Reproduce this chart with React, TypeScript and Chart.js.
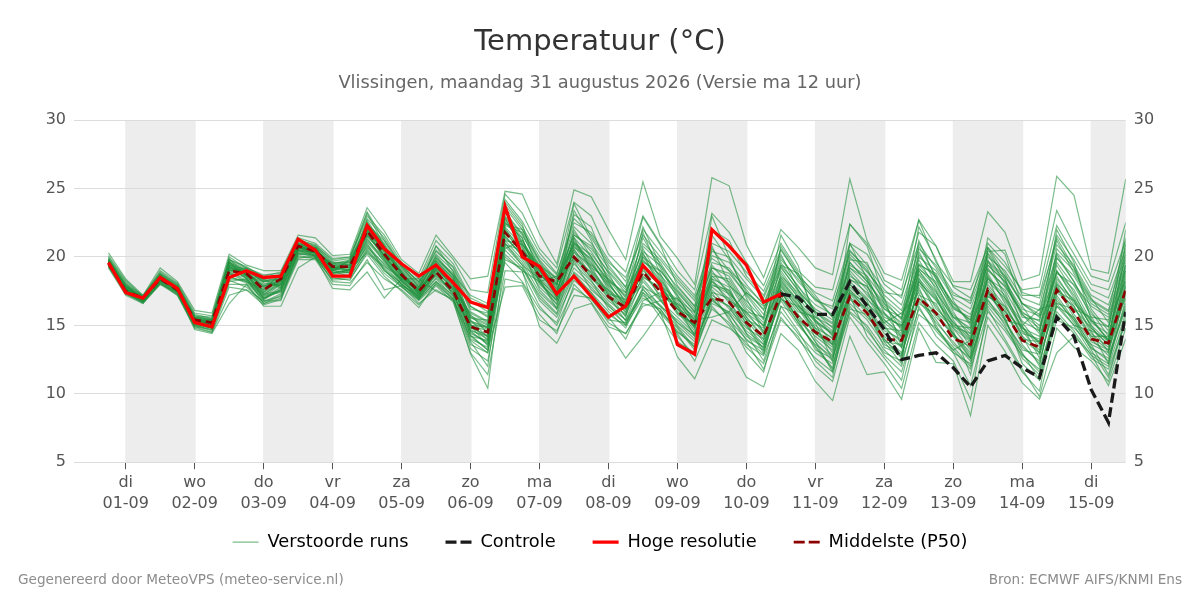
import React, { useEffect, useRef } from "react";
import { Chart, registerables } from "chart.js";
Chart.register(...registerables);

const dayNames = ["di","wo","do","vr","za","zo","ma","di","wo","do","vr","za","zo","ma","di"];
const dates = ["01-09","02-09","03-09","04-09","05-09","06-09","07-09","08-09","09-09","10-09","11-09","12-09","13-09","14-09","15-09"];
const shadedDays = [0,2,4,6,8,10,12,14];

const hres = [19.6,17.4,17.0,18.5,17.7,15.2,14.9,18.5,19.0,18.5,18.6,21.3,20.5,18.6,18.6,22.3,20.6,19.5,18.6,19.4,18.1,16.7,16.3,23.7,20.0,19.3,17.3,18.6,17.1,15.6,16.4,19.4,18.0,13.6,12.9,22.0,20.8,19.4,16.7,17.3];
const p50 = [19.5,17.5,17.0,18.4,17.6,15.4,15.2,19.0,18.8,17.6,18.4,20.8,20.4,19.3,19.3,21.9,20.2,18.7,17.5,18.9,17.5,14.9,14.5,21.8,20.4,18.6,18.2,20.0,18.6,17.1,16.3,18.9,17.5,16.0,15.2,17.0,16.7,15.2,14.2,17.3,15.6,14.5,13.8,17.1,15.9,14.0,13.9,17.0,15.9,14.0,13.6,17.6,15.9,13.9,13.4,17.6,16.0,14.0,13.7,17.6];
const controlStart = 39;
const control = [17.3,17.05,15.8,15.8,18.2,16.4,14.7,12.5,12.8,13.0,11.9,10.5,12.4,12.8,11.9,11.2,15.6,14.2,10.3,7.9,16.0];

const run01 = [20.3,18.4,17.2,19.2,18.2,16.1,15.9,20.2,19.4,19.0,19.0,21.6,21.4,20.1,20.2,23.6,21.9,19.8,18.8,21.6,20.0,18.4,18.6,24.8,24.6,21.7,19.5,24.9,24.4,22.0,19.8,25.5,21.5,19.9,18.0,25.8,25.2,20.9,18.5,22.0,20.7,19.2,18.7,25.7,21.2,18.8,18.3,22.7,20.8,18.2,18.2,23.3,21.8,18.3,18.7,25.9,24.5,19.1,18.8,25.7];
const run02 = [20.1,18.3,17.1,19.0,18.1,15.9,15.7,20.0,19.2,18.7,18.8,21.4,21.0,19.9,20.0,23.0,21.6,19.6,18.4,21.2,19.8,17.6,17.4,24.6,23.2,20.6,19.2,24.0,23.0,20.2,18.9,23.0,21.0,19.0,17.6,23.2,21.8,19.6,17.9,21.0,19.0,17.8,17.6,22.4,21.0,18.3,17.6,22.7,19.6,17.9,17.6,20.7,19.3,17.6,17.8,23.4,20.9,18.6,18.2,22.5];
const run03 = [20.0,18.2,17.1,18.9,18.0,15.8,15.5,19.8,19.3,18.5,18.7,21.2,20.9,19.7,19.9,22.8,21.4,19.4,18.2,20.8,19.5,17.0,16.4,24.2,22.6,20.3,18.8,22.5,21.8,19.8,18.2,22.0,20.4,18.6,17.2,21.0,20.4,18.9,17.5,20.5,18.6,17.4,16.8,21.0,20.2,18.0,17.0,21.8,20.8,17.8,17.0,20.4,20.5,17.2,17.2,22.3,20.2,18.0,17.6,21.2];
const run04 = [19.9,18.0,17.0,18.8,17.9,15.7,15.4,19.6,19.0,18.3,18.4,21.0,20.8,19.5,19.7,22.5,21.0,19.2,18.0,20.5,19.2,16.4,15.6,23.6,22.0,19.8,18.3,22.2,21.0,19.2,17.8,21.0,19.8,18.2,16.8,20.4,20.0,18.4,17.0,20.0,18.2,16.9,16.2,20.9,19.4,17.6,16.5,20.6,19.4,17.4,16.6,20.0,19.0,17.0,16.5,21.6,19.8,17.6,17.0,20.6];
const run05 = [19.8,17.9,17.0,18.7,17.8,15.6,15.3,19.5,18.9,18.2,18.3,20.9,20.6,19.4,19.6,22.2,20.8,19.1,17.9,20.2,19.0,16.0,15.3,23.2,21.6,19.4,18.5,21.6,20.6,18.9,17.4,20.4,19.4,17.8,16.4,20.1,19.6,18.0,16.5,19.6,17.8,16.5,15.8,20.5,19.0,17.2,16.1,20.0,19.0,17.0,16.2,19.7,18.6,16.6,16.1,20.9,19.4,17.2,16.5,20.2];
const run06 = [19.7,17.8,16.9,18.6,17.7,15.5,15.3,19.3,18.8,18.0,18.2,20.9,20.5,19.3,19.5,22.0,20.6,19.0,17.8,20.0,18.6,15.6,15.0,22.9,21.2,19.2,18.2,21.0,20.2,18.6,17.0,20.0,19.0,17.5,16.0,19.6,19.2,17.6,16.1,19.3,17.5,16.2,15.4,20.0,18.6,16.9,15.8,19.5,18.6,16.6,15.8,19.4,18.2,16.2,15.7,20.3,19.0,16.9,16.1,19.8];
const run07 = [19.7,17.7,16.9,18.5,17.7,15.5,15.2,19.2,18.7,17.9,18.1,20.8,20.5,19.2,19.4,21.9,20.4,18.8,17.7,19.7,18.4,15.3,14.8,22.6,20.9,19.0,18.0,20.7,19.9,18.3,16.8,19.7,18.7,17.2,15.7,19.2,18.8,17.3,15.8,19.0,17.2,15.9,15.1,19.6,18.2,16.6,15.5,19.1,18.2,16.3,15.4,19.1,17.8,15.9,15.3,19.9,18.6,16.6,15.8,19.4];
const run08 = [19.6,17.6,16.9,18.5,17.6,15.4,15.1,19.1,18.5,17.4,18.5,20.7,20.3,19.2,19.2,21.6,20.1,18.6,17.5,19.2,17.9,14.9,14.2,22.3,21.8,19.6,17.6,20.4,18.4,17.6,16.6,18.8,17.2,16.6,15.6,18.2,17.4,15.8,14.6,18.4,16.8,14.8,14.1,18.3,17.9,15.4,14.4,18.5,16.2,15.0,14.8,18.4,17.6,15.3,14.6,18.9,17.6,15.3,14.9,18.4];
const run09 = [19.5,17.5,16.9,18.3,17.5,15.2,15.0,18.9,18.3,17.1,18.0,20.5,20.1,18.9,18.9,21.2,19.8,18.3,17.2,18.8,17.4,14.4,13.8,21.6,20.0,18.0,16.8,19.5,18.2,16.8,15.8,18.2,16.8,15.6,14.4,17.6,16.2,14.8,14.0,17.6,15.4,14.2,13.2,17.4,16.2,14.4,13.4,17.6,15.6,14.4,13.0,17.2,16.0,14.0,13.0,17.8,15.6,13.8,13.2,17.2];
const run10 = [19.4,17.4,16.8,18.2,17.4,15.1,14.9,18.6,18.1,16.9,17.7,20.3,20.0,18.6,18.7,20.9,19.4,18.0,17.0,18.4,17.1,14.0,13.4,21.0,19.6,17.4,16.2,18.9,17.8,16.4,15.4,17.6,16.5,15.2,14.0,16.9,15.8,14.2,13.4,16.8,15.0,13.6,12.7,16.6,15.4,13.6,12.9,16.8,15.2,13.8,12.4,16.6,15.2,13.4,12.4,17.0,15.2,13.3,12.6,16.6];
const run11 = [19.3,17.3,16.7,18.1,17.3,15.0,14.8,18.3,17.8,16.7,17.3,20.1,19.9,18.4,18.5,20.6,19.1,17.8,16.8,18.0,16.9,13.6,13.0,20.5,19.2,16.8,15.6,18.3,17.2,15.8,15.0,17.0,16.2,14.6,13.4,16.2,15.2,13.6,12.8,16.0,14.4,13.0,12.2,15.9,14.6,13.0,12.4,16.2,14.6,13.2,11.8,16.0,14.6,12.8,11.8,16.0,14.6,12.8,12.0,15.9];
const run12 = [19.2,17.2,16.6,18.0,17.2,14.8,14.5,17.2,17.6,16.5,16.9,19.8,19.8,18.0,17.9,19.8,17.6,17.9,16.6,17.6,16.8,12.9,10.4,20.2,19.0,14.9,13.7,16.2,16.6,14.6,12.6,14.2,16.0,12.7,11.1,14.0,13.6,11.2,10.5,14.4,13.2,10.9,9.5,14.2,11.4,11.6,9.6,14.8,12.3,12.2,8.4,15.0,13.1,10.8,9.6,13.0,14.2,12.9,10.6,14.0];
const run13 = [19.3,17.4,16.7,18.0,17.4,14.7,14.4,16.6,18.0,16.4,16.4,19.2,20.0,17.7,17.6,18.9,17.0,18.4,18.4,17.5,16.9,14.2,13.2,17.8,17.9,15.4,14.6,17.2,17.0,15.2,14.4,16.4,16.8,17.0,15.4,15.6,16.0,17.4,16.4,17.6,16.0,15.6,14.9,17.8,16.6,15.2,15.9,17.4,14.8,13.2,13.9,18.6,15.4,15.0,16.2,16.6,16.2,15.6,15.4,18.2];
const run14 = [19.9,18.1,16.8,18.6,17.5,15.6,15.0,19.7,18.4,17.0,17.8,20.6,20.7,19.0,19.8,23.2,20.8,18.9,17.3,19.4,18.2,15.0,14.9,24.0,22.4,18.4,17.0,23.4,21.2,18.2,16.2,21.8,18.8,16.4,14.8,23.0,20.0,17.0,14.4,20.8,18.8,15.8,14.2,21.0,18.4,15.0,13.4,19.0,17.2,14.2,12.6,20.6,18.4,15.0,12.6,20.0,18.2,15.6,13.8,20.9];
const run15 = [19.6,17.8,17.1,18.7,17.8,15.3,15.4,18.7,18.9,17.8,18.4,20.3,20.2,19.6,19.4,22.6,20.0,18.4,17.7,20.8,18.9,16.2,15.9,20.6,21.2,19.0,17.9,23.9,21.4,19.4,17.8,22.9,20.9,17.9,16.4,22.0,21.2,18.6,17.2,20.2,17.6,15.4,13.6,19.8,19.6,16.8,15.4,22.2,19.8,16.8,15.0,21.4,20.2,16.4,14.6,19.0,17.0,15.0,13.0,19.0];
const run16 = [19.8,17.6,16.7,18.4,17.5,15.5,15.1,19.4,19.1,18.1,17.9,21.1,20.6,19.0,18.8,21.4,19.6,18.2,17.1,19.0,18.1,15.8,14.4,22.0,20.6,18.8,17.4,22.0,20.0,18.0,16.5,19.4,17.8,16.2,14.6,18.8,18.2,16.2,15.0,18.0,16.4,14.6,13.8,18.8,17.2,15.9,14.8,18.2,16.8,15.2,14.2,19.8,17.0,14.6,13.8,18.4,16.8,14.4,13.4,18.6];
const run17 = [19.5,17.5,17.0,18.3,17.6,15.3,15.2,19.9,18.6,17.2,18.2,20.5,20.3,19.4,19.5,21.8,20.4,18.8,17.4,19.6,18.4,15.2,14.7,21.4,20.2,18.6,18.0,21.2,19.6,17.8,16.0,18.6,17.6,16.8,15.0,17.4,17.0,15.4,13.8,18.8,17.0,14.0,12.8,18.0,16.8,13.8,12.2,20.2,18.4,16.0,14.0,18.8,16.6,14.2,12.0,18.0,15.8,14.2,14.2,17.0];
const run18 = [19.4,17.6,16.8,18.5,17.4,15.0,14.6,18.5,18.2,17.6,18.8,20.9,20.0,18.8,19.1,20.3,19.3,18.5,17.8,18.6,17.6,14.6,14.2,20.0,19.0,18.2,18.6,19.9,18.9,17.3,16.9,17.9,16.4,15.4,14.2,18.4,17.8,15.0,13.0,17.2,15.2,13.4,11.8,16.9,15.6,14.2,13.0,18.0,16.4,14.6,11.4,17.4,15.6,12.2,11.0,16.4,15.0,14.6,12.2,17.8];
const run19 = [19.6,17.7,17.0,18.6,17.7,15.4,15.0,19.2,18.8,16.9,17.6,20.7,20.4,19.1,19.0,21.0,19.0,18.1,16.9,18.2,17.2,14.8,14.3,19.6,18.2,16.2,15.2,18.6,17.4,15.6,14.0,16.8,17.4,14.2,12.8,17.0,15.6,13.0,11.6,16.4,14.6,12.4,11.2,17.2,14.2,12.6,11.0,16.4,14.2,13.0,10.6,15.6,13.8,11.6,10.2,16.8,15.4,13.2,11.2,15.4];
const run20 = [19.7,17.9,16.9,18.4,17.6,15.6,15.5,19.0,19.0,17.4,18.1,20.6,20.5,18.9,18.6,22.4,20.9,18.6,17.6,19.9,18.8,15.5,15.4,23.0,21.4,18.2,16.5,20.8,19.2,18.4,17.2,20.6,18.4,16.6,15.2,20.6,19.0,17.2,15.5,21.6,19.4,15.2,12.4,19.2,18.0,14.8,13.8,19.8,17.6,15.4,13.4,19.2,17.4,14.6,13.0,20.6,19.2,16.2,14.6,22.0];
const run21 = [19.8,18.0,17.2,18.8,18.0,15.4,14.8,19.0,18.6,18.4,18.6,20.4,20.1,19.5,19.8,22.0,20.7,19.3,18.2,19.8,18.7,17.2,16.6,22.8,21.0,18.9,17.7,20.3,19.4,18.1,16.4,19.2,17.9,16.9,15.9,18.6,18.4,16.4,15.2,17.9,16.2,14.8,13.0,18.4,17.4,15.6,15.0,17.0,16.0,14.8,13.8,18.0,16.4,14.4,14.0,19.4,17.4,14.8,13.6,19.4];
const run22 = [19.4,17.5,16.8,18.2,17.3,14.9,14.7,18.2,18.4,17.2,17.4,20.2,20.2,18.5,18.3,20.4,18.8,17.8,16.9,18.2,17.0,13.3,12.4,19.0,18.9,16.4,15.0,17.7,16.9,15.4,15.2,17.4,16.4,14.9,13.4,17.0,16.4,14.4,12.4,16.4,15.8,13.8,11.6,16.4,14.8,12.8,11.6,15.8,14.8,13.4,12.0,16.9,15.0,12.6,11.4,15.8,14.4,12.6,11.8,15.2];
const run23 = [19.5,17.4,16.6,18.1,17.2,14.9,14.5,17.8,17.6,16.8,17.1,19.9,20.1,18.2,18.1,19.6,18.4,17.6,16.5,17.9,16.7,13.0,11.4,18.4,18.1,15.8,14.4,18.0,16.7,14.9,14.4,16.6,16.2,14.4,12.4,15.4,14.8,13.8,11.8,15.4,14.2,12.0,10.9,15.6,13.8,12.2,10.4,15.2,13.6,12.4,9.6,16.2,14.0,11.8,9.8,14.8,13.4,12.4,10.9,14.8];
const run24 = [19.6,17.6,17.0,18.3,17.5,15.1,14.9,19.4,18.9,18.4,17.8,21.2,20.7,19.2,19.1,21.5,20.2,18.9,17.4,19.3,17.8,14.6,13.6,21.8,20.4,19.3,18.4,20.9,19.5,17.9,16.7,19.8,18.2,15.9,15.0,18.2,16.9,14.4,13.4,18.2,16.8,15.2,14.4,19.0,17.6,14.8,14.6,18.8,17.4,15.6,15.2,18.2,17.0,15.2,13.6,19.0,17.2,15.2,14.4,18.8];
const run25 = [19.7,17.6,16.9,18.4,17.6,15.3,15.1,19.5,18.6,17.6,18.3,20.8,20.4,19.0,19.4,22.3,20.6,18.7,17.2,19.5,18.2,14.2,13.9,22.2,20.8,18.5,17.3,21.4,19.0,17.4,15.6,20.2,18.6,16.2,14.9,19.0,17.2,15.4,14.8,19.4,17.9,16.0,14.8,19.4,18.6,15.9,14.2,20.4,18.0,15.8,14.6,20.2,18.0,15.8,14.8,19.6,17.9,15.8,14.9,20.0];
const run26 = [19.8,17.8,17.0,18.5,17.7,15.5,15.4,19.6,19.0,17.8,18.6,21.0,20.6,19.1,19.7,22.4,21.2,19.3,17.8,19.7,18.5,15.0,14.6,22.4,22.0,19.7,18.0,21.8,20.4,18.4,17.1,21.4,19.2,17.0,15.3,19.4,17.9,16.8,15.4,18.6,17.4,15.6,14.6,18.6,17.8,16.2,15.6,19.2,17.8,15.6,14.4,19.0,17.9,16.0,15.0,18.6,16.6,15.4,14.0,19.2];
const run27 = [19.5,17.5,16.9,18.3,17.6,15.2,15.0,18.8,18.5,16.6,17.0,20.4,20.3,18.7,18.9,20.8,19.2,18.0,17.1,18.7,17.3,14.3,13.2,21.2,19.8,17.8,16.6,19.2,18.0,16.6,15.4,18.4,16.9,15.0,13.8,16.6,16.0,14.6,13.6,17.0,15.6,13.8,12.4,17.6,16.0,13.4,12.8,17.2,16.6,14.4,12.8,17.8,16.2,13.6,12.2,17.4,16.4,14.0,12.8,16.2];
const run28 = [19.6,17.7,17.1,18.6,17.8,15.6,15.4,19.8,19.2,18.6,18.9,21.3,20.8,19.8,20.0,23.3,21.2,19.4,18.1,20.4,19.3,16.8,16.0,23.8,22.2,20.0,18.7,22.8,21.6,19.6,18.5,21.6,20.0,18.4,17.0,19.9,19.0,17.8,16.6,19.8,18.4,16.8,16.4,20.2,18.9,17.4,17.2,21.0,19.2,17.2,16.8,21.0,19.6,17.4,17.0,21.2,18.8,16.8,16.0,21.4];
const run29 = [19.4,17.3,16.7,18.2,17.5,15.0,14.7,18.0,18.0,16.6,17.2,20.0,19.9,18.3,18.4,20.2,18.6,17.5,16.3,18.1,16.9,13.8,12.0,20.8,19.4,17.0,15.8,18.8,17.4,16.0,14.8,17.4,15.6,13.8,13.0,16.4,15.0,13.4,12.2,15.6,14.0,12.6,11.6,16.0,15.0,13.2,12.0,17.0,15.4,13.6,12.6,16.4,14.8,13.0,11.0,15.4,14.8,13.6,11.4,15.6];
const run30 = [19.8,17.9,17.1,18.7,17.9,15.7,15.6,19.7,19.1,18.2,18.6,20.9,20.7,19.6,19.6,22.1,20.3,18.5,17.0,19.1,18.3,15.4,14.1,21.9,20.2,18.3,17.2,20.1,18.8,17.0,16.2,19.0,18.0,16.0,14.4,17.9,17.6,15.6,14.2,17.4,15.8,14.4,13.4,17.6,16.4,14.6,14.0,18.4,17.0,14.9,14.4,17.6,16.0,14.8,13.8,18.2,16.4,14.2,13.2,17.9];
const run31 = [19.7,17.7,16.8,18.5,17.7,15.4,15.1,19.1,18.7,17.5,18.2,20.6,20.5,19.3,19.2,21.7,20.0,18.4,17.6,19.0,17.7,14.7,14.0,22.8,20.7,18.7,17.5,21.0,19.8,17.6,15.9,20.0,18.3,16.4,14.2,18.6,17.5,15.6,14.0,18.3,16.6,14.6,13.6,22.4,20.8,17.0,13.4,19.4,18.0,15.6,14.8,19.6,18.4,15.8,14.4,22.0,19.6,15.4,13.9,20.4];
const run32 = [19.6,17.6,16.9,18.4,17.5,15.3,15.0,19.0,19.2,18.3,17.7,20.7,20.2,18.8,19.0,21.3,19.9,18.2,17.3,19.2,18.0,14.5,13.7,22.5,21.4,18.1,16.9,20.6,18.6,17.2,16.2,18.5,17.8,16.2,15.5,18.4,16.6,15.2,13.2,17.8,16.2,14.4,13.6,17.0,16.2,14.0,12.6,18.2,16.9,14.8,13.2,18.6,16.8,14.9,13.4,17.8,16.2,14.8,13.6,18.0];
const run33 = [19.5,17.5,16.9,18.3,17.6,15.2,14.9,18.4,18.3,16.8,16.8,20.5,20.3,19.0,18.9,20.7,19.5,18.3,17.5,19.4,17.6,15.1,13.9,21.5,20.1,18.2,16.8,20.0,18.5,17.0,15.7,19.2,17.0,15.2,14.3,17.2,16.4,15.0,13.6,18.1,16.5,15.0,14.0,17.4,16.6,15.4,14.2,16.6,15.8,14.2,13.4,17.1,16.4,14.2,13.2,17.2,15.4,13.6,13.0,17.4];
const run34 = [19.7,17.8,17.0,18.5,17.6,15.4,15.2,19.3,18.7,17.3,18.0,20.8,20.4,19.1,19.3,21.9,20.5,18.8,17.5,19.5,18.1,15.7,15.1,23.4,21.0,19.1,18.1,21.6,20.8,18.8,16.6,20.8,19.6,17.6,16.2,19.2,18.6,16.6,14.9,19.2,17.6,16.0,15.2,19.6,18.2,16.4,15.0,19.4,18.8,16.2,15.6,19.4,18.2,15.6,15.4,20.2,18.2,16.0,14.2,19.6];
const run35 = [19.6,17.7,16.8,18.4,17.6,15.3,15.0,19.2,19.0,17.0,17.5,20.6,20.6,19.0,19.3,22.0,19.8,18.0,16.9,18.8,17.8,15.6,14.8,21.2,20.9,19.4,17.0,21.4,20.0,18.2,17.4,22.2,19.4,17.2,15.0,20.8,18.0,16.0,15.6,20.6,18.6,17.0,15.6,20.4,19.2,16.6,14.6,21.2,18.4,16.6,15.2,20.7,18.8,16.6,15.8,21.4,19.2,17.0,15.2,21.0];
const run36 = [19.5,17.6,17.0,18.5,17.5,15.4,15.2,18.9,18.8,17.7,18.3,20.9,20.3,19.2,19.0,21.6,20.0,18.6,17.4,19.1,17.5,15.9,15.2,21.0,19.4,18.4,16.2,19.8,18.3,16.2,15.1,17.8,17.1,16.5,14.8,17.8,16.8,16.0,14.4,16.9,16.4,15.4,14.3,18.0,16.9,15.8,14.9,18.7,17.1,15.2,14.0,17.4,15.8,14.0,13.8,17.5,16.8,14.6,14.0,17.5];
const run37 = [19.7,17.5,16.9,18.3,17.7,15.2,14.8,19.3,18.4,17.3,17.5,20.5,20.4,19.3,19.0,21.1,19.7,18.3,17.0,18.5,17.4,13.9,13.0,20.9,20.5,17.6,16.3,21.1,19.3,17.2,15.3,17.2,16.0,14.8,13.2,17.4,15.4,14.0,12.9,17.5,15.4,13.2,12.6,16.2,15.8,13.8,13.6,17.8,15.0,13.0,12.2,17.6,15.4,12.9,11.6,16.6,15.0,13.0,12.2,16.9];
const run38 = [19.6,17.6,16.8,18.6,17.6,15.5,15.0,19.6,18.6,18.2,18.4,21.0,20.5,18.8,19.1,22.7,20.7,18.9,17.6,20.1,18.6,16.4,15.7,23.3,21.7,19.2,17.8,23.1,22.2,19.0,17.6,19.6,19.0,17.4,16.0,21.6,19.8,17.4,16.2,19.4,18.8,17.2,15.6,19.2,18.4,16.2,15.2,20.8,18.6,16.4,15.4,20.3,18.6,16.6,15.6,18.8,18.0,16.4,15.6,19.0];
const run39 = [19.4,17.4,16.7,18.1,17.4,15.1,14.8,18.8,18.2,17.0,17.6,20.2,20.1,18.6,18.6,20.5,19.0,17.9,17.2,18.9,17.2,15.0,13.5,19.8,19.2,17.2,15.9,19.7,17.6,16.5,15.0,17.7,15.9,14.5,13.6,16.8,15.9,13.9,13.2,17.0,15.2,13.5,11.9,17.3,15.9,14.0,12.7,18.3,15.9,14.4,12.6,16.8,15.4,13.2,12.9,16.4,15.6,13.4,12.4,16.4];
const run40 = [19.8,17.7,17.1,18.5,17.8,15.5,15.3,19.4,18.7,17.9,18.0,20.7,20.6,19.4,19.2,21.8,20.1,18.6,17.3,19.3,18.0,15.3,14.9,22.1,20.3,19.0,17.1,20.5,19.1,17.5,16.4,20.3,17.7,15.8,15.1,18.0,17.3,15.9,15.0,18.5,17.1,15.3,14.5,18.2,17.0,15.2,14.1,19.0,17.5,15.0,13.9,18.4,17.2,14.8,14.2,18.0,16.9,15.0,13.8,18.2];

const runs = [run01,run02,run03,run04,run05,run06,run07,run08,run09,run10,run11,run12,run13,run14,run15,run16,run17,run18,run19,run20,run21,run22,run23,run24,run25,run26,run27,run28,run29,run30,run31,run32,run33,run34,run35,run36,run37,run38,run39,run40];

const FONT = "'DejaVu Sans', sans-serif";
const dayOf = (i: number) => -0.25 + i * 0.25;
const toPoints = (values: number[], start = 0) => values.map((y, i) => ({ x: dayOf(start + i), y }));

const bandsPlugin = {
  id: "bands",
  beforeDraw(chart: any) {
    const { ctx, chartArea, scales } = chart;
    ctx.save();
    ctx.fillStyle = "#ededed";
    for (const d of shadedDays) {
      const a = scales.x.getPixelForValue(d) - 0.5;
      const b = Math.min(scales.x.getPixelForValue(d + 1) + 1, chartArea.right);
      ctx.fillRect(a, chartArea.top, b - a, chartArea.bottom - chartArea.top);
    }
    ctx.restore();
  },
};

const legendShiftPlugin = {
  id: "legendShift",
  afterLayout(chart: any) {
    chart.legend.top -= 26;
    chart.legend.bottom -= 26;
  },
};

const footerPlugin = {
  id: "footers",
  afterDraw(chart: any) {
    const { ctx } = chart;
    ctx.save();
    ctx.font = `13.6px ${FONT}`;
    ctx.fillStyle = "#8c8c8c";
    ctx.textBaseline = "middle";
    ctx.textAlign = "left";
    ctx.fillText("Gegenereerd door MeteoVPS (meteo-service.nl)", 18, 580);
    ctx.textAlign = "right";
    ctx.fillText("Bron: ECMWF AIFS/KNMI Ens", 1182, 580);
    ctx.restore();
  },
};

export default function App() {
  const ref = useRef<HTMLCanvasElement>(null);
  useEffect(() => {
    document.body.style.margin = "0";
    const memberStyle = {
      borderColor: "rgba(34,145,62,0.6)",
      borderWidth: 1.2,
      pointRadius: 0,
      fill: false,
      order: 3,
    };
    const datasets: any[] = [
      { ...memberStyle, label: "Verstoorde runs", data: toPoints(runs[0]) },
      { label: "Controle", data: toPoints(control, controlStart), borderColor: "#1a1a1a", borderWidth: 3.3, borderDash: [10, 4.5], pointRadius: 0, order: 0 },
      { label: "Hoge resolutie", data: toPoints(hres), borderColor: "#ff0000", borderWidth: 3.3, pointRadius: 0, order: 1 },
      { label: "Middelste (P50)", data: toPoints(p50), borderColor: "#8b0000", borderWidth: 2.7, borderDash: [8, 5], pointRadius: 0, order: 2 },
      ...runs.slice(1).map((r, i) => ({ ...memberStyle, label: `run${i + 2}`, data: toPoints(r) })),
    ];
    const yBase = {
      min: 5,
      max: 30,
      border: { display: false },
    };
    const tickFont = { size: 16, family: FONT };
    const chart = new Chart(ref.current!, {
      type: "line",
      data: { datasets },
      plugins: [bandsPlugin, legendShiftPlugin, footerPlugin],
      options: {
        responsive: false,
        animation: false,
        devicePixelRatio: 1,
        layout: { padding: { left: 0, right: 0, top: 25, bottom: 13 } },
        scales: {
          x: {
            type: "linear",
            min: -0.75,
            max: 14.5,
            grid: { drawOnChartArea: false, drawTicks: true, tickLength: 7, tickColor: "#555" },
            border: { display: false },
            ticks: {
              stepSize: 1,
              includeBounds: false,
              autoSkip: false,
              maxRotation: 0,
              padding: 3,
              color: "#555",
              font: { ...tickFont, lineHeight: 1.3 },
              callback: (v: any) => (Number.isInteger(v) && dates[v] ? [dayNames[v], dates[v]] : ""),
            },
            afterFit: (s: any) => { s.height = 60; },
          },
          y: {
            ...yBase,
            position: "left",
            ticks: { stepSize: 5, color: "#555", font: tickFont, padding: 8 },
            grid: { color: "#dcdcdc", drawTicks: false, lineWidth: 1 },
            afterFit: (s: any) => { s.width = 74; },
          },
          y2: {
            ...yBase,
            position: "right",
            ticks: { stepSize: 5, color: "#555", font: tickFont, padding: 8 },
            grid: { display: false, drawTicks: false },
            afterFit: (s: any) => { s.width = 74.3; },
          },
        } as any,
        plugins: {
          title: {
            display: true,
            text: "Temperatuur (°C)",
            color: "#333",
            font: { size: 29, weight: "normal", family: FONT },
            padding: { top: 0, bottom: 13 },
          },
          subtitle: {
            display: true,
            text: "Vlissingen, maandag 31 augustus 2026 (Versie ma 12 uur)",
            color: "#666",
            font: { size: 17.8, weight: "normal", family: FONT },
            padding: { top: 0, bottom: 26 },
          },
          legend: {
            position: "bottom",
            labels: {
              usePointStyle: true,
              pointStyle: "line",
              pointStyleWidth: 26,
              padding: 37,
              color: "#000",
              font: { size: 17.8, family: FONT },
              filter: (item: any) => item.datasetIndex < 4,
              sort: (a: any, b: any) => a.datasetIndex - b.datasetIndex,
              generateLabels: (c: any) =>
                (Chart.defaults.plugins.legend.labels as any).generateLabels(c).map((it: any) => {
                  const ds = c.data.datasets[it.datasetIndex];
                  return { ...it, lineDash: ds.borderDash ? [11, 4] : [], lineWidth: ds.borderWidth, strokeStyle: ds.borderColor };
                }),
            },
          },
          tooltip: { enabled: false },
        },
      } as any,
    });
    return () => chart.destroy();
  }, []);
  return <canvas ref={ref} width={1200} height={600} style={{ display: "block", width: 1200, height: 600 }} />;
}
